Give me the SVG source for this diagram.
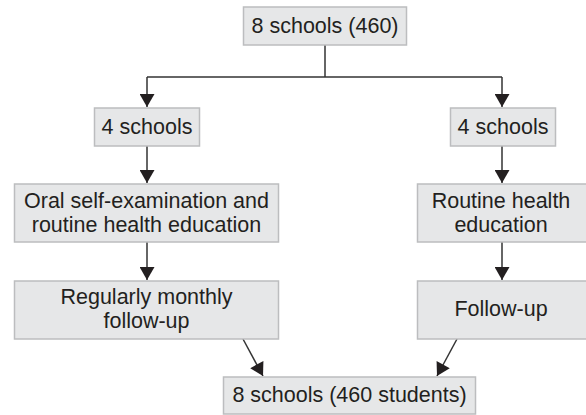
<svg xmlns="http://www.w3.org/2000/svg" width="586" height="415" viewBox="0 0 586 415">
<style>
.box{fill:#e6e7e8;stroke:#bcbdbf;stroke-width:1.5}
.t{font-family:"Liberation Sans",Arial,sans-serif;font-size:21.5px;fill:#231f20;text-anchor:middle}
.c{fill:none;stroke:#333;stroke-width:1.5}
</style>
<defs>
<marker id="ah" markerUnits="userSpaceOnUse" markerWidth="15" markerHeight="15" viewBox="0 0 13 15" refX="13" refY="7.5" orient="auto">
<path d="M0,0 L13,7.5 L0,15 Z" fill="#231f20"/>
</marker>
</defs>
<rect width="586" height="415" fill="#fff"/>
<g id="connectors">
<path class="c" d="M325,45 V77"/>
<path class="c" d="M147,77 H502"/>
<path class="c" d="M147,77 V107" marker-end="url(#ah)"/>
<path class="c" d="M502,77 V107" marker-end="url(#ah)"/>
<path class="c" d="M147,146 V183" marker-end="url(#ah)"/>
<path class="c" d="M502,146 V183" marker-end="url(#ah)"/>
<path class="c" d="M147,242 V280" marker-end="url(#ah)"/>
<path class="c" d="M502,242 V280" marker-end="url(#ah)"/>
<path class="c" d="M243,339 L263,376" marker-end="url(#ah)"/>
<path class="c" d="M457,339 L437,376" marker-end="url(#ah)"/>
</g>
<g id="top">
<rect class="box" x="243.5" y="7" width="163" height="38"/>
<text class="t" x="325" y="33">8 schools (460)</text>
</g>
<g id="left4">
<rect class="box" x="94.5" y="108" width="105" height="38"/>
<text class="t" x="147" y="134">4 schools</text>
</g>
<g id="right4">
<rect class="box" x="450.5" y="108" width="105" height="38"/>
<text class="t" x="503" y="134">4 schools</text>
</g>
<g id="oral">
<rect class="box" x="14.5" y="184" width="264" height="58"/>
<text class="t" x="146.5" y="208">Oral self-examination and</text>
<text class="t" x="146.5" y="232">routine health education</text>
</g>
<g id="routine">
<rect class="box" x="417.5" y="184" width="170" height="58"/>
<text class="t" x="501" y="208">Routine health</text>
<text class="t" x="501" y="232">education</text>
</g>
<g id="monthly">
<rect class="box" x="14.5" y="281" width="264" height="58"/>
<text class="t" x="146.5" y="304">Regularly monthly</text>
<text class="t" x="146.5" y="328">follow-up</text>
</g>
<g id="followup">
<rect class="box" x="417.5" y="281" width="170" height="58"/>
<text class="t" x="501" y="316">Follow-up</text>
</g>
<g id="bottom">
<rect class="box" x="223.5" y="377" width="252" height="37"/>
<text class="t" x="349.5" y="402">8 schools (460 students)</text>
</g>
</svg>
